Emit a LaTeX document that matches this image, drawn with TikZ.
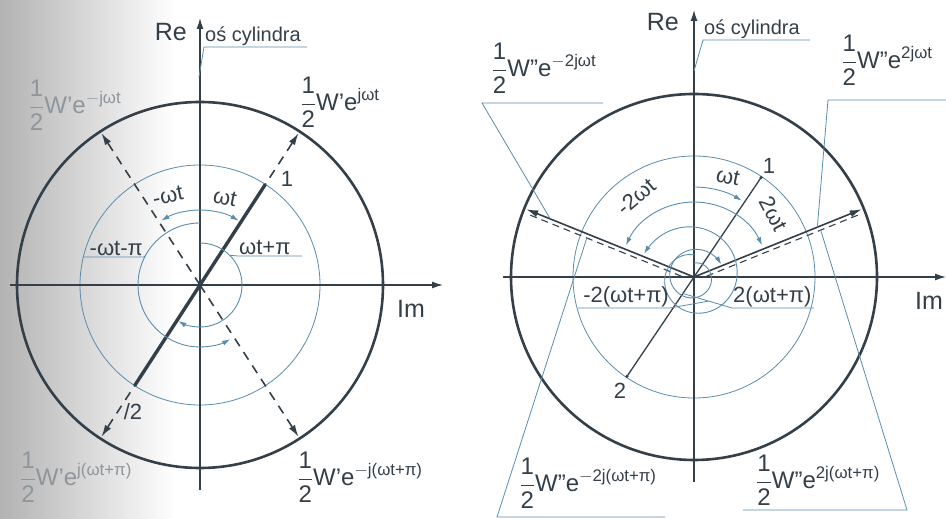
\documentclass[tikz,border=0pt]{standalone}
\usepackage{amsmath}
\usepackage{fontspec}
\setmainfont{Liberation Sans}
\usetikzlibrary{arrows.meta,calc}

\definecolor{ink}{HTML}{333F49}
\definecolor{thinblue}{HTML}{5A8CAE}
\definecolor{faded}{HTML}{8E969C}

\newcommand{\half}{\genfrac{}{}{0.8pt}{0}{\text{1}}{\text{2}}}

\begin{document}
\begin{tikzpicture}[x=1pt, y=1pt,
  every node/.style={text=ink, inner sep=1pt},
  veclbl/.style={font=\fontsize{24}{28}\selectfont},
  anglbl/.style={font=\fontsize{22}{26}\selectfont},
  axislbl/.style={font=\fontsize{25}{29}\selectfont},
  notelbl/.style={font=\fontsize{20}{24}\selectfont},
  axis/.style={ink, line width=1.3pt, -{Latex[length=11pt,width=7pt]}},
  rim/.style={ink, line width=2.6pt},
  ring/.style={thinblue, line width=0.8pt},
  vec/.style={ink, line width=1.6pt, -{Latex[length=12pt,width=7pt]}},
  dvec/.style={vec, dash pattern=on 9pt off 7pt},
  angarc/.style={thinblue, line width=0.9pt, -{Latex[length=8pt,width=5pt]}},
  leader/.style={thinblue, line width=0.8pt},
  ]

  \useasboundingbox (0,0) rectangle (946,519);
  % grey fall-off at the left edge of the scan
  \shade[left color=black!30, right color=white] (0,0) rectangle (175,519);

  % ====== lewy: W' ======
  \begin{scope}[shift={(200,234)}]
    \coordinate (O1) at (0,0);
    \draw[rim] (O1) circle (183);
    \draw[ring] (O1) circle (120);
    \coordinate (imL1) at (-190,0);
    \coordinate (imR1) at (243,0);
    \coordinate (reB1) at (0,-205);
    \coordinate (reT1) at (0,267);
    \draw[axis] (imL1) -- (imR1);
    \draw[axis] (reB1) -- (reT1);

    % os cylindra 2-1
    \coordinate (p1) at (57:120);
    \coordinate (p2) at (237:120);
    \draw[ink, line width=3.4pt] (p2) -- (p1);

    % wektory
    \draw[dvec] (O1) -- (57:181);
    \draw[dvec] (O1) -- (123:181);
    \draw[dvec] (O1) -- (237:181);
    \draw[dvec] (O1) -- (303:181);

    % katy
    \draw[angarc] (90:75) arc[start angle=90, end angle=59, radius=75];
    \draw[angarc] (90:75) arc[start angle=90, end angle=121, radius=75];
    \draw[angarc] (90:42) arc[start angle=90, end angle=-121, radius=42];
    \draw[angarc] (90:62) arc[start angle=90, end angle=299, radius=62];

    \node[axislbl, anchor=east] (re1) at (-12,253) {Re};
    \node[axislbl] (im1) at (211,-24) {Im};
    \node[notelbl, anchor=south west] (os1) at (4,238) {oś cylindra};
    \coordinate (osU1) at (107,238);
    \coordinate (osA1) at (-1,208);
    \draw[leader] (osA1) -- (os1.south west) -- (osU1);

    \node[veclbl] (w1) at (140,183) {$\half\text{W'e}^{\text{jωt}}$};
    \node[veclbl, text=faded] (w2) at (-125,180) {$\half\text{W'e}^{-\text{jωt}}$};
    \node[veclbl] (w3) at (160,-192) {$\half\text{W'e}^{-\text{j(ωt+π)}}$};
    \node[veclbl, text=faded] (w4) at (-124,-192) {$\half\text{W'e}^{\text{j(ωt+π)}}$};

    \node[anglbl] (n1) at (87,106) {1};
    \node[anglbl] (n2) at (-67,-127) {/2};
    \node[anglbl, rotate=-12] (wt1) at (25,87) {ωt};
    \node[anglbl, rotate=12] (mwt1) at (-32,89) {-ωt};

    \node[anglbl, anchor=south west] (wtp1) at (38,29) {ωt+π};
    \coordinate (wtpU1) at (102,29);
    \coordinate (wtpA1) at (45:42);
    \draw[leader] (wtpA1) -- (wtp1.south west) -- (wtpU1);

    \node[anglbl, anchor=south east] (mwtp1) at (-56,28) {-ωt-π};
    \coordinate (mwtpU1) at (-117,28);
    \coordinate (mwtpA1) at (152:62);
    \draw[leader] (mwtpA1) -- (mwtp1.south east) -- (mwtpU1);
  \end{scope}

  % ====== prawy: W'' ======
  \begin{scope}[shift={(694,242)}]
    \coordinate (O2) at (0,0);
    \draw[rim] (O2) circle (183);
    \draw[ring] (O2) circle (121);
    \coordinate (imL2) at (-191,0);
    \coordinate (imR2) at (252,0);
    \coordinate (reB2) at (0,-205);
    \coordinate (reT2) at (0,267);
    \draw[axis] (imL2) -- (imR2);
    \draw[axis] (reB2) -- (reT2);

    % os cylindra 2-1
    \coordinate (q1) at (56:120);
    \coordinate (q2) at (236:120);
    \draw[ink, line width=1.3pt] (q2) -- (q1);
    \fill[ink] (q1) circle (1.8);
    \fill[ink] (q2) circle (1.8);

    % wektory 2wt i ich kopie 2(wt+pi)
    \draw[vec] (O2) -- (22:181);
    \draw[vec] (O2) -- (158:181);
    \draw[ink, line width=1.1pt, dash pattern=on 7pt off 5pt]
      ($(22:12)+(-68:4)$) -- ($(22:176)+(-68:4)$);
    \draw[ink, line width=1.1pt, dash pattern=on 7pt off 5pt]
      ($(158:12)+(248:4)$) -- ($(158:176)+(248:4)$);

    % katy
    \draw[angarc] (90:90) arc[start angle=90, end angle=58, radius=90];
    \draw[angarc] (90:75) arc[start angle=90, end angle=25, radius=75];
    \draw[angarc] (90:75) arc[start angle=90, end angle=155, radius=75];
    \draw[angarc] plot[domain=90:515, samples=90] ({\x}:{22+33*(\x-90)/425});
    \draw[angarc] plot[domain=90:-335, samples=90] ({\x}:{14+16*(90-\x)/425});

    \node[axislbl, anchor=east] (re2) at (-14,255) {Re};
    \node[axislbl] (im2) at (235,-24) {Im};
    \node[notelbl, anchor=south west] (os2) at (9,237) {oś cylindra};
    \coordinate (osU2) at (116,237);
    \coordinate (osA2) at (0,206);
    \draw[leader] (osA2) -- (os2.south west) -- (osU2);

    \node[veclbl] (v1) at (-150,209) {$\half\text{W''e}^{-\text{2jωt}}$};
    \coordinate (v1L) at (-212,174);
    \coordinate (v1R) at (-91,174);
    \coordinate (v1A) at (158:155);
    \draw[leader] (v1R) -- (v1L) -- (v1A);

    \node[veclbl] (v2) at (193,217) {$\half\text{W''e}^{\text{2jωt}}$};
    \coordinate (v2L) at (134,177);
    \coordinate (v2R) at (252,177);
    \coordinate (v2A) at (22:133);
    \draw[leader] (v2R) -- (v2L) -- (v2A);

    \node[veclbl] (v3) at (-106,-206) {$\half\text{W''e}^{-\text{2j(ωt+π)}}$};
    \coordinate (v3L) at (-197,-240);
    \coordinate (v3R) at (-29,-240);
    \coordinate (v3A) at ($(158:114)+(248:4)$);
    \draw[leader] (v3R) -- (v3L) -- (v3A);

    \node[veclbl] (v4) at (124,-203) {$\half\text{W''e}^{\text{2j(ωt+π)}}$};
    \coordinate (v4L) at (49,-233);
    \coordinate (v4R) at (213,-233);
    \coordinate (v4A) at ($(22:135)+(-68:4)$);
    \draw[leader] (v4L) -- (v4R) -- (v4A);

    \node[anglbl] (m1) at (75,111) {1};
    \node[anglbl] (m2) at (-74,-114) {2};
    \node[anglbl, rotate=-12] (wt2) at (34,100) {ωt};
    \node[anglbl, rotate=-62] (twt2) at (80,63) {2ωt};
    \node[anglbl, rotate=40] (mtwt2) at (-58,80) {-2ωt};

    \node[anglbl, anchor=south east] (mtp2) at (-24,-31) {-2(ωt+π)};
    \coordinate (mtpU2) at (-116,-31);
    \coordinate (mtpA2) at (300:28);
    \draw[leader] (mtpA2) -- (mtp2.south east) -- (mtpU2);

    \node[anglbl, anchor=south west] (tp2) at (38,-31) {2(ωt+π)};
    \coordinate (tpU2) at (120,-31);
    \coordinate (tpA2) at (235:20);
    \draw[leader] (tpA2) -- (tp2.south west) -- (tpU2);
  \end{scope}
\end{tikzpicture}
\end{document}
